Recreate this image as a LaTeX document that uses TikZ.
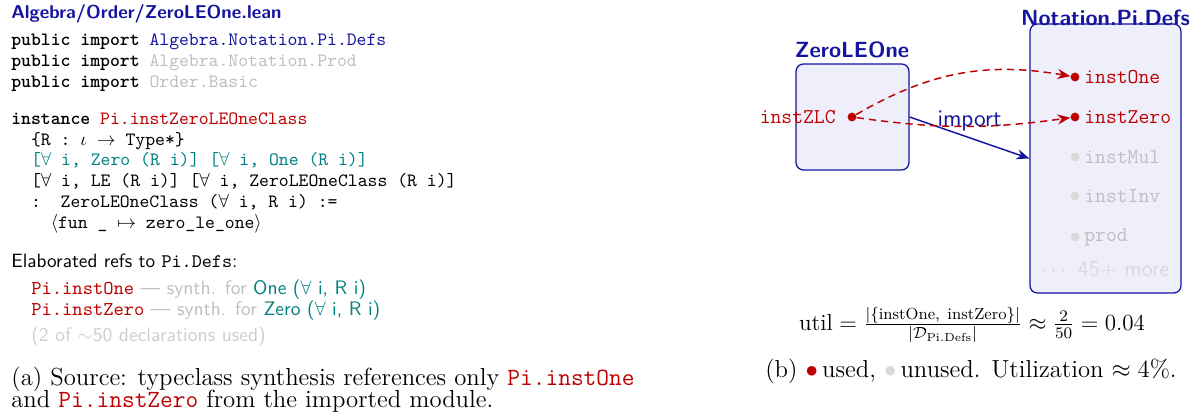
\RequirePackage{fix-cm}
\documentclass[tikz,border=0pt]{standalone}
\usepackage{amsmath}
\usepackage{fontspec}
\usetikzlibrary{arrows.meta}
\definecolor{cblue}{RGB}{20,20,160}
\definecolor{cred}{RGB}{190,0,0}
\definecolor{cteal}{RGB}{0,128,128}
\definecolor{cgray}{RGB}{190,190,190}
\definecolor{clight}{RGB}{205,205,205}
\definecolor{cdot}{RGB}{218,218,218}
\definecolor{cfill}{RGB}{239,239,252}
\newcommand{\fsz}[1]{\fontsize{#1}{1.2\dimexpr #1pt\relax}\selectfont}
\begin{document}
\begin{tikzpicture}[x=0.5464pt,y=-0.5464pt,
  txt/.style={anchor=base west,inner sep=0pt},
  code/.style={txt,font=\ttfamily\fsz{10.27}},
  modbox/.style={draw=cblue,fill=cfill,rounded corners=4pt,line width=0.7pt},
  modtitle/.style={anchor=base,font=\sffamily\bfseries\large,text=cblue,inner sep=0pt},
  used/.style={circle,fill=cred,inner sep=0pt,minimum size=4.8pt},
  unused/.style={circle,fill=cdot,inner sep=0pt,minimum size=4.8pt},
  itemlbl/.style={anchor=west,inner sep=0pt,font=\ttfamily\fsz{11.5}},
  ref/.style={draw=cred,dash pattern=on 4pt off 2.7pt,line width=0.8pt,-{Stealth[length=7pt,width=5.5pt]}},
  imp/.style={draw=cblue,line width=0.8pt,-{Stealth[length=7pt,width=5.5pt]}}]
\useasboundingbox (0,0) rectangle (1190,418);

% ---- left panel ----
\node[txt,font=\sffamily\bfseries\fsz{10.15},text=cblue] (ftitle) at (11,19) {Algebra/Order/ZeroLEOne.lean};
\node[code] (imp1) at (11,46) {\textbf{public import} \textcolor{cblue}{Algebra.Notation.Pi.Defs}};
\node[code] (imp2) at (11,67) {\textbf{public import} \textcolor{cgray}{Algebra.Notation.Prod}};
\node[code] (imp3) at (11,88) {\textbf{public import} \textcolor{cgray}{Order.Basic}};
\node[code] (inst) at (11,125) {\textbf{instance} \textcolor{cred}{Pi.instZeroLEOneClass}};
\node[code] (l1) at (30.7,146) {\{R : $\iota$ $\to$ Type*\}};
\node[code,text=cteal] (l2) at (30.7,166) {[$\forall$ i, Zero (R i)] [$\forall$ i, One (R i)]};
\node[code] (l3) at (30.7,187) {[$\forall$ i, LE (R i)] [$\forall$ i, ZeroLEOneClass (R i)]};
\node[code] (l4) at (30.7,208) {:~~ZeroLEOneClass ($\forall$ i, R i) :=};
\node[code] (l5) at (50.4,229) {$\langle$fun \_ $\mapsto$ zero\_le\_one$\rangle$};

\node[txt,font=\sffamily\fsz{10.5}] (elab) at (11,268) {Elaborated refs to \texttt{Pi.Defs}:};
\node[txt,font=\sffamily\fsz{10.7}] (r1) at (31,295) {\textcolor{cred}{\texttt{Pi.instOne}} \textcolor{cgray}{--- synth. for} \textcolor{cteal}{One ($\forall$ i, R i)}};
\node[txt,font=\sffamily\fsz{10.7}] (r2) at (31,316) {\textcolor{cred}{\texttt{Pi.instZero}} \textcolor{cgray}{--- synth. for} \textcolor{cteal}{Zero ($\forall$ i, R i)}};
\node[txt,font=\sffamily\fsz{10.7},text=clight] (r3) at (31,342) {(2 of $\sim$50 declarations used)};

\node[txt,font=\fsz{13.5}] (capa1) at (11,386) {(a) Source: typeclass synthesis references only \textcolor{cred}{\texttt{Pi.instOne}}};
\node[txt,font=\fsz{13.5}] (capa2) at (11,408) {and \textcolor{cred}{\texttt{Pi.instZero}} from the imported module.};

% ---- right panel ----
\node[modbox,minimum width=61.7pt,minimum height=57.9pt] (zbox) at (852.5,117) {};
\node[modtitle] (ztitle) at (852,58) {ZeroLEOne};
\node[modbox,minimum width=82.5pt,minimum height=147pt] (nbox) at (1105.5,158.5) {};
\node[modtitle] (ntitle) at (1105.5,26) {Notation.Pi.Defs};

\node[used] (zd) at (852,117) {};
\node[anchor=east,inner sep=0pt,font=\ttfamily\fsz{11.5},text=cred] (zl) at (836,117) {instZLC};

\node[used] (d1) at (1075,77) {};
\node[itemlbl,text=cred] (t1) at (1084,77) {instOne};
\node[used] (d2) at (1075,117) {};
\node[itemlbl,text=cred] (t2) at (1084,117) {instZero};
\node[unused] (d3) at (1075,157) {};
\node[itemlbl,text=cgray] (t3) at (1084,157) {instMul};
\node[unused] (d4) at (1075,196) {};
\node[itemlbl,text=cgray] (t4) at (1084,196) {instInv};
\node[unused] (d5) at (1075,237) {};
\node[itemlbl,text=cgray] (t5) at (1084,237) {prod};
\node[font=\sffamily\fsz{12.3},text=cdot,inner sep=0pt] (more) at (1105,270) {$\cdots$ 45$+$ more};

\draw[imp] (zbox.east) -- (nbox.west) node[midway,above=3pt,inner sep=0pt,font=\sffamily\fsz{13},text=cblue] (implbl) {import};
\draw[ref] (zd) to[bend left=20] (d1);
\draw[ref] (zd) to[bend right=8] (d2);

\node[inner sep=0pt,font=\fsz{12.6}] (util) at (972,325) {$\mathrm{util} = \frac{|\{\mathrm{instOne},\ \mathrm{instZero}\}|}{|\mathcal{D}_{\mathrm{Pi.Defs}}|} \approx \frac{2}{50} = 0.04$};
\node[anchor=base,inner sep=0pt,font=\fsz{13.5}] (capb) at (971,378) {(b) \textcolor{cred}{$\bullet$}\,used, \textcolor{cdot}{$\bullet$}\,unused. Utilization $\approx 4\%$.};
\end{tikzpicture}
\end{document}
